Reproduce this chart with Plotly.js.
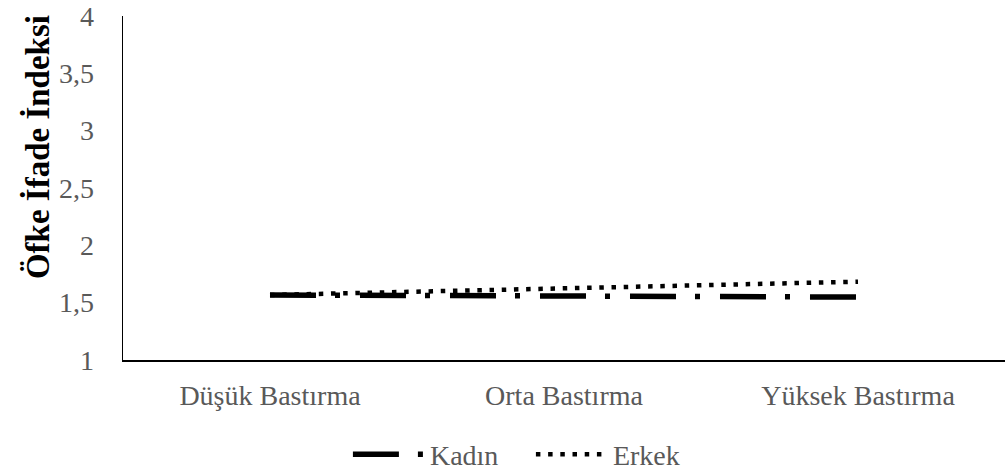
<!DOCTYPE html>
<html>
<head>
<meta charset="utf-8">
<script src="https://cdn.plot.ly/plotly-3.0.1.min.js"></script>
<style>html,body{margin:0;padding:0;background:#fff;}#chart{width:1007px;height:473px;}</style>
</head>
<body>
<div id="chart"></div>
<script>
var categories = ["Düşük Bastırma", "Orta Bastırma", "Yüksek Bastırma"];
var kadin = [1.567, 1.557, 1.549];
var erkek = [1.567, 1.628, 1.683];
var yTickVals = [1, 1.5, 2, 2.5, 3, 3.5, 4];
var yTickText = ["1", "1,5", "2", "2,5", "3", "3,5", "4"];
var yTitle = "Öfke İfade İndeksi";

var serif = "Liberation Serif, Times New Roman, serif";

var traces = [
  {x: categories, y: kadin, name: "Kadın", type: "scatter", mode: "lines",
   line: {color: "#000000", width: 5.5, dash: "46px,19px,5px,20px"}},
  {x: categories, y: erkek, name: "Erkek", type: "scatter", mode: "lines",
   line: {color: "#000000", width: 4.5, dash: "4.5px,7.7px"}}
];

var layout = {
  width: 1007, height: 473,
  margin: {l: 123, r: 2, t: 16, b: 113, autoexpand: false},
  paper_bgcolor: "#ffffff", plot_bgcolor: "#ffffff",
  font: {family: serif, color: "#595959", size: 28},
  showlegend: true,
  legend: {orientation: "h", x: 0.255, xanchor: "left", y: -0.275, yanchor: "middle",
           font: {family: serif, size: 28, color: "#595959"}, itemwidth: 72,
           entrywidth: 96, entrywidthmode: "pixels"},
  xaxis: {type: "category", showgrid: false, zeroline: false, showline: true,
          linecolor: "#000000", linewidth: 1.5, ticks: "", range: [-0.5, 2.5],
          ticklabelstandoff: 10,
          tickfont: {family: serif, size: 28, color: "#595959"}},
  yaxis: {range: [1, 4], tickvals: yTickVals, ticktext: yTickText, showgrid: false,
          zeroline: false, showline: true, linecolor: "#000000", linewidth: 1.5,
          ticks: "", ticklabelstandoff: 22,
          tickfont: {family: serif, size: 28, color: "#595959"}},
  annotations: [{text: "<b>" + yTitle + "</b>", textangle: -90, showarrow: false,
                 xref: "paper", yref: "paper", x: -0.0975, y: 0.619,
                 xanchor: "center", yanchor: "middle",
                 font: {family: serif, size: 33, color: "#000000"}}]
};

Plotly.newPlot("chart", traces, layout, {displayModeBar: false, staticPlot: true});
</script>
</body>
</html>
